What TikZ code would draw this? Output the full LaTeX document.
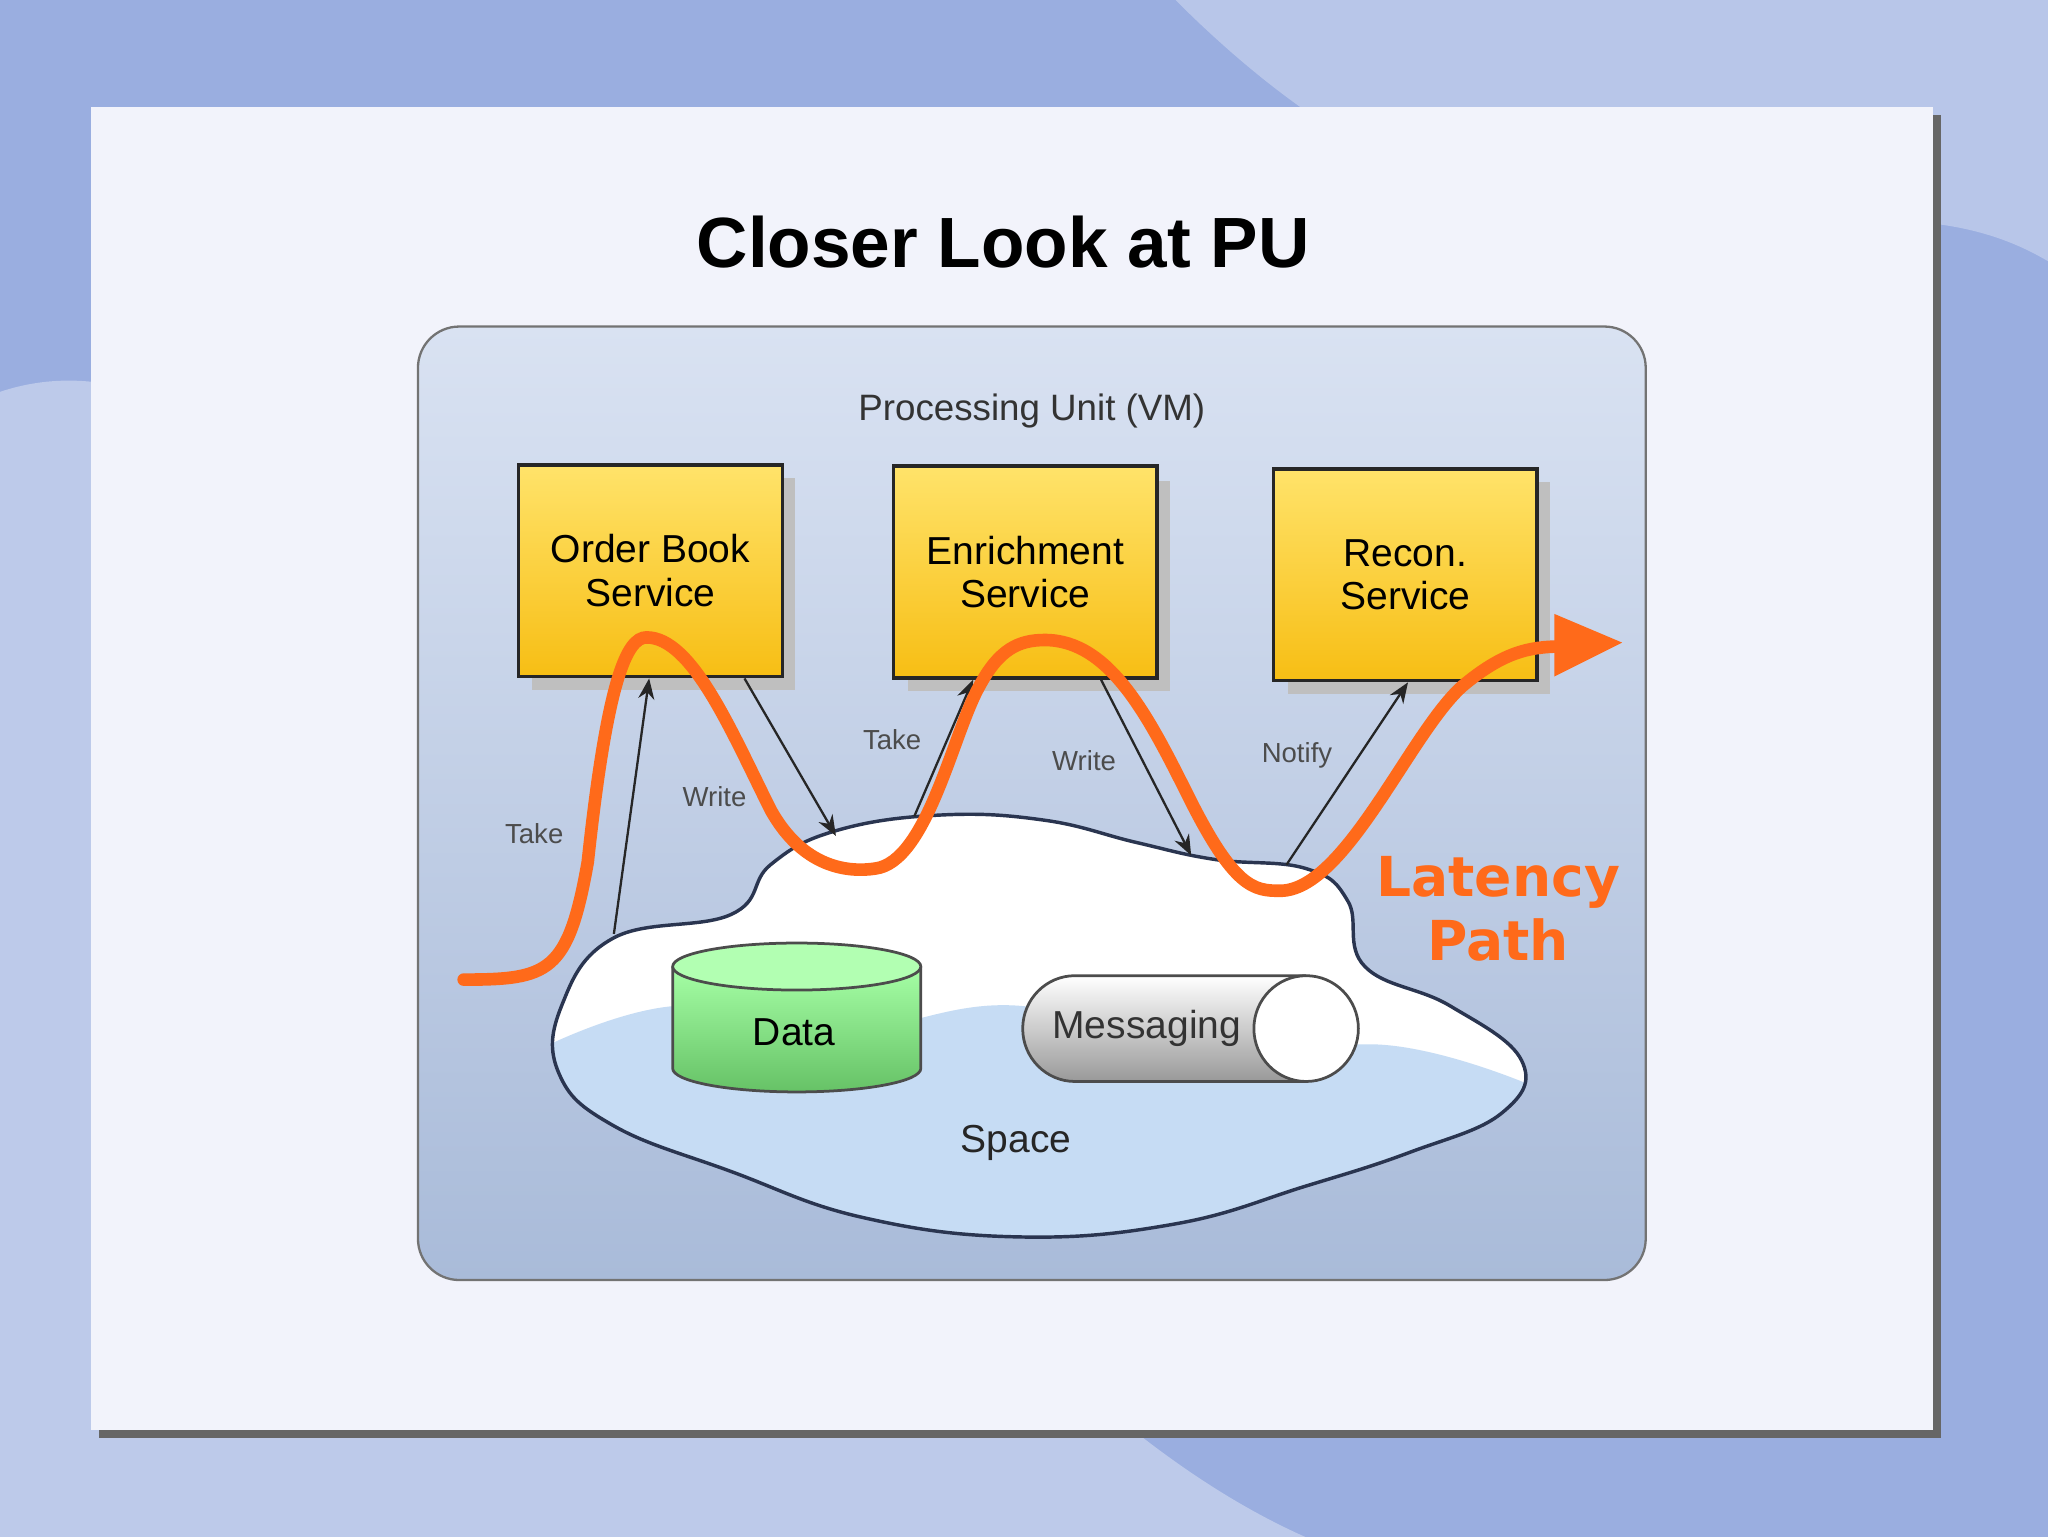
\documentclass[tikz,border=0pt]{standalone}
\usepackage{fontspec}
\setmainfont{Liberation Sans}
\newfontfamily\latfont{DejaVu Sans}
\usetikzlibrary{arrows.meta,shapes.geometric}
\definecolor{bgblue}{HTML}{9AAEE0}
\definecolor{panel}{HTML}{F2F3FB}
\definecolor{puA}{HTML}{D9E2F2}
\definecolor{puB}{HTML}{A9BBD9}
\definecolor{boxA}{HTML}{FFE36A}
\definecolor{boxB}{HTML}{F7BE14}
\definecolor{lat}{HTML}{FF6A1A}
\definecolor{cloudline}{HTML}{2A3550}
\definecolor{cloudblue}{HTML}{C6DCF4}
\tikzset{
 svc/.style={draw=black!85,line width=1.6pt,top color=boxA,bottom color=boxB,minimum width=202*0.02cm,minimum height=162*0.02cm,align=center,font=\fontsize{17}{19}\selectfont,inner sep=0pt},
 conn/.style={-{Stealth[length=9pt,width=7pt]},line width=1pt,black!85},
 lbl/.style={font=\fontsize{12}{14}\selectfont,text=black!70},
}
\begin{document}
\begin{tikzpicture}[x=0.02cm,y=-0.02cm]
\useasboundingbox (0,0) rectangle (1568,1177);
\fill[bgblue] (0,0) rectangle (1568,1177);
\fill[white,opacity=0.35] (0,300) .. controls (300,200) and (600,1000) .. (1000,1177) -- (0,1177) -- cycle;
\fill[white,opacity=0.3] (900,0) .. controls (1200,300) and (1400,100) .. (1568,200) -- (1568,0) -- cycle;
\fill[black!60] (76,88) rectangle (1486,1101);
\fill[panel] (70,82) rectangle (1480,1095);
\node[font=\bfseries\fontsize{31}{34}\selectfont] (title) at (768,185) {Closer Look at PU};
\shade[top color=puA,bottom color=puB,draw=black!55,line width=1pt,rounded corners=18pt] (320,250) rectangle (1260,980);
\node[font=\fontsize{16}{18}\selectfont,text=black!80] (pu) at (790,315) {Processing Unit (VM)};
% boxes with shadows
\fill[black!25] (407,366) rectangle (609,528);
\fill[black!25] (695,368) rectangle (896,529);
\fill[black!25] (986,369) rectangle (1187,531);
\node[svc] (ob) at (498,437) {Order Book\\Service};
\node[svc] (en) at (785,438) {Enrichment\\Service};
\node[svc] (rc) at (1076,440) {Recon.\\Service};
% cloud
\def\cloudpath{plot[smooth cycle,tension=0.7] coordinates {(430,770) (470,718) (560,700) (590,662) (640,636) (720,624) (800,628) (870,645) (930,658) (1000,665) (1032,690) (1045,740) (1110,770) (1165,812) (1150,852) (1080,882) (1000,908) (900,937) (780,947) (660,932) (560,897) (470,862) (428,822)}}
\fill[white] \cloudpath;
\begin{scope}
\clip \cloudpath;
\fill[cloudblue] plot[smooth,tension=0.7] coordinates {(420,800) (520,770) (640,790) (780,770) (920,810) (1060,800) (1170,830)} -- (1170,960) -- (420,960) -- cycle;
\end{scope}
\draw[cloudline,line width=1.5pt] \cloudpath;
% data cylinder
\draw[black!70,line width=1.2pt,top color=green!35!white,bottom color=green!60!black!60] (515,740) -- (515,818) arc[start angle=180,end angle=0,x radius=95,y radius=18] -- (705,740);
\draw[black!70,line width=1.2pt,fill=green!30!white] (610,740) ellipse[x radius=95,y radius=18];
\node[font=\fontsize{17}{19}\selectfont] (data) at (608,790) {Data};
% messaging cylinder
\draw[black!70,line width=1.2pt,top color=white,bottom color=black!40] (1000,828) -- (823,828) arc[start angle=90,end angle=270,x radius=40,y radius=40.5] -- (1000,747);
\draw[black!70,line width=1.2pt,fill=white] (1000,787.5) ellipse[x radius=40,y radius=40.5];
\node[font=\fontsize{17}{19}\selectfont,text=black!80] (msg) at (878,787) {Messaging};
\node[font=\fontsize{17}{19}\selectfont,text=black!85] (space) at (778,875) {Space};
% connectors
\coordinate (c1) at (470,715); \coordinate (c2) at (640,640);
\coordinate (c3) at (700,625); \coordinate (c4) at (912,655);
\coordinate (c5) at (985,662);
\draw[conn] (c1) -- (ob.south -| 497,0);
\draw[conn] (ob.south -| 570,0) -- (c2);
\draw[conn] (c3) -- (en.south -| 745,0);
\draw[conn] (en.south -| 843,0) -- (c4);
\draw[conn] (c5) -- (rc.south -| 1078,0);
\node[lbl] (t1) at (409,638) {Take};
\node[lbl] (w1) at (547,610) {Write};
\node[lbl] (t2) at (683,566) {Take};
\node[lbl] (w2) at (830,582) {Write};
\node[lbl] (n1) at (993,578) {Notify};
% latency path
\coordinate (ls) at (355,750); \coordinate (le) at (1242,492);
\draw[lat,line width=5.5pt,line cap=round] (ls) .. controls (420,750) and (435,745) .. (450,660)
 .. controls (465,520) and (480,488) .. (495,488)
 .. controls (530,488) and (560,560) .. (590,620)
 .. controls (615,665) and (650,668) .. (670,665)
 .. controls (710,660) and (730,560) .. (750,525)
 .. controls (765,497) and (780,490) .. (800,490)
 .. controls (850,490) and (880,550) .. (910,610)
 .. controls (945,680) and (960,682) .. (980,682)
 .. controls (1030,682) and (1080,560) .. (1120,525)
 .. controls (1150,500) and (1170,495) .. (1195,495);
\fill[lat] (1190,470) -- (le) -- (1190,518) -- cycle;
\node[font=\latfont\bfseries\fontsize{24}{28}\selectfont,text=lat,align=center] (lp) at (1147,696) {Latency\\Path};
\end{tikzpicture}
\end{document}
